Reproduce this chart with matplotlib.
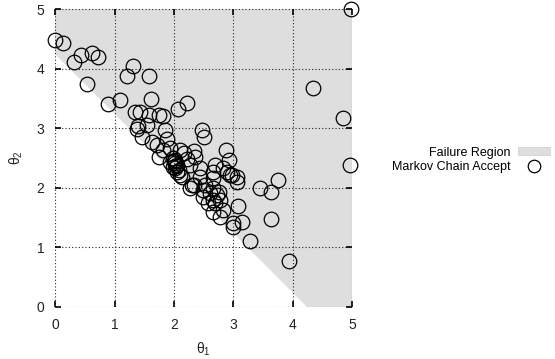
import numpy as np
import matplotlib
matplotlib.use("Agg")
import matplotlib.pyplot as plt
from matplotlib.patches import Patch
from matplotlib.lines import Line2D

plt.rcParams['font.family'] = ['Liberation Sans', 'DejaVu Sans']
plt.rcParams['mathtext.fontset'] = 'custom'
plt.rcParams['mathtext.rm'] = 'Liberation Sans'
plt.rcParams['mathtext.it'] = 'Liberation Sans'

# Failure boundary: theta1 + theta2 = beta
beta = 3 * np.sqrt(2)
axis_max = 5

theta1 = [0.00, 0.12, 0.32, 0.43, 0.61, 0.72, 0.53, 0.88, 1.09, 1.30, 1.21, 1.58,
          1.61, 2.07, 2.21, 1.35, 1.43, 1.58, 1.74, 1.82,
          1.40, 1.54, 1.37, 1.85, 1.88, 1.46, 1.62, 1.71, 1.82, 1.93, 1.74, 2.02,
          1.99, 2.05, 2.16, 2.35, 2.47, 2.51, 2.88, 2.92,
          2.10, 2.02, 2.05, 1.93, 2.02, 2.33, 2.27, 2.44, 2.69, 2.66, 2.83, 2.89,
          2.13, 2.33, 2.27, 2.49, 2.49, 2.66, 2.72, 2.66,
          2.00, 2.04, 1.98, 2.08, 2.22,
          3.06, 2.97, 3.06, 3.45, 3.63, 3.76, 3.07, 2.94, 2.66, 2.30, 2.75, 2.78,
          2.58, 2.83, 2.69, 2.78, 2.66, 3.00, 2.99, 3.14, 3.28, 3.64, 3.93,
          2.44, 2.52, 2.61, 2.10,
          4.98, 4.34, 4.84, 4.97]
theta2 = [4.48, 4.44, 4.11, 4.23, 4.26, 4.19, 3.75, 3.40, 3.47, 4.05, 3.88, 3.88,
          3.49, 3.32, 3.42, 3.27, 3.27, 3.23, 3.22, 3.21,
          3.04, 3.05, 2.98, 2.97, 2.82, 2.86, 2.77, 2.72, 2.63, 2.66, 2.52, 2.47,
          2.35, 2.27, 2.58, 2.52, 2.97, 2.86, 2.63, 2.47,
          2.63, 2.41, 2.38, 2.44, 2.33, 2.61, 2.38, 2.33, 2.38, 2.27, 2.33, 2.27,
          2.18, 2.05, 1.99, 1.96, 1.85, 1.99, 1.88, 1.79,
          2.45, 2.36, 2.50, 2.30, 2.48,
          2.18, 2.21, 2.10, 1.99, 1.93, 2.13, 1.70, 2.21, 2.16, 2.05, 1.93, 1.79,
          1.74, 1.63, 1.74, 1.51, 1.60, 1.40, 1.34, 1.43, 1.10, 1.47, 0.77,
          2.18, 2.05, 1.91, 2.21,
          5.00, 3.67, 3.17, 2.39]

ticks = [0, 1, 2, 3, 4, 5]

fig = plt.figure(figsize=(5.55, 3.59), dpi=100)
ax = fig.add_axes([0.0998, 0.1457, 0.5345, 0.8284])

region_color = '#dedede'
ax.fill([0, 0, axis_max, axis_max, beta], [beta, axis_max, axis_max, 0, 0],
        color=region_color, lw=0, zorder=1)

ax.plot(theta1, theta2, 'o', mfc='none', mec='black', ms=10.5, mew=0.9,
        zorder=4, clip_on=False)

ax.set_xlim(0, axis_max)
ax.set_ylim(0, axis_max)
ax.set_xticks(ticks)
ax.set_yticks(ticks)
ax.grid(True, color='#222222', linestyle=(0, (1, 2)), linewidth=0.8, zorder=2)
ax.set_axisbelow(False)
for s in ax.spines.values():
    s.set_visible(False)
ax.tick_params(direction='in', top=True, right=True, length=4, width=1.2,
               labelsize=10, pad=8, labelcolor='#222222')

ax.set_xlabel(r'$\theta_1$', fontsize=10, labelpad=6, color='#222222')
ax.set_ylabel(r'$\theta_2$', fontsize=10, labelpad=8, color='#222222')

handles = [Patch(facecolor=region_color, edgecolor='#cccccc', linewidth=0.5),
           Line2D([], [], marker='o', linestyle='none', mfc='none', mec='black',
                  ms=9, mew=0.9)]
fig.legend(handles, ['Failure Region', 'Markov Chain Accept'],
           loc='center right', bbox_to_anchor=(1.003, 0.555), frameon=False,
           markerfirst=False, fontsize=9, handlelength=2.6, handleheight=0.6,
           labelspacing=0.15, handletextpad=0.6, borderpad=0)

fig.savefig('out.png', dpi=100)
